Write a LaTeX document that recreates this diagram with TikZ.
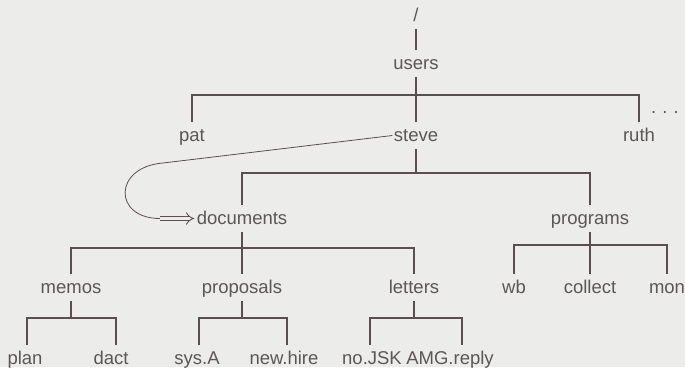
\documentclass[tikz,border=0pt]{standalone}
\usepackage{fontspec}
\setmainfont{Liberation Sans}
\usetikzlibrary{arrows.meta}
\definecolor{paper}{RGB}{236,236,234}
\definecolor{ink}{RGB}{90,78,82}
\definecolor{txt}{RGB}{92,86,88}
\tikzset{
  lbl/.style={anchor=base, inner xsep=1.5pt, inner ysep=4pt, outer sep=0pt,
              text height=15pt, text depth=4pt, text=txt,
              font=\fontsize{18.5}{20}\selectfont},
  tree/.style={draw=ink, line width=1.8pt},
  link/.style={draw=ink, line width=0.8pt},
}
\begin{document}
\begin{tikzpicture}[x=1pt, y=-1pt]
  % background and frame of the picture
  \fill[paper] (0,0) rectangle (685,367);
  \useasboundingbox (0,0) rectangle (685,367);

  % directory names
  \node[lbl] (root) at (416,21) {/};
  \node[lbl] (users) at (416,69) {users};
  \node[lbl] (pat) at (192,141) {pat};
  \node[lbl] (steve) at (416,141) {steve};
  \node[lbl] (ruth) at (639,141) {ruth};
  \node[lbl, inner sep=0pt, text depth=0pt, text height=0pt] (more) at (665,113) {.\,\,.\,\,.};
  \node[lbl] (documents) at (242,224) {documents};
  \node[lbl] (programs) at (590,224) {programs};
  \node[lbl] (memos) at (71,293) {memos};
  \node[lbl] (proposals) at (242,293) {proposals};
  \node[lbl] (letters) at (414,293) {letters};
  \node[lbl] (wb) at (514,293) {wb};
  \node[lbl] (collect) at (590,293) {collect};
  \node[lbl] (mon) at (667,293) {mon};
  \node[lbl] (plan) at (25,364) {plan};
  \node[lbl] (dact) at (111,364) {dact};
  \node[lbl] (sysA) at (197,364) {sys.A};
  \node[lbl] (newhire) at (284,364) {new.hire};
  \node[lbl] (noJSK) at (372,364) {no.JSK};
  \node[lbl] (AMGreply) at (450,364) {AMG.reply};

  % branching points
  \coordinate (busers) at (416,95);
  \coordinate (bsteve) at (416,173);
  \coordinate (bdocs) at (242,248);
  \coordinate (bprogs) at (590,245);
  \coordinate (bmemos) at (71,318);
  \coordinate (bprops) at (242,318);
  \coordinate (bletters) at (414,318);

  % tree edges
  \draw[tree] (root.south) -- (users.north);
  \draw[tree] (users.south) -- (steve.north);
  \draw[tree] (pat.north) |- (busers) -| (ruth.north);
  \draw[tree] (steve.south) -- (bsteve);
  \draw[tree] (documents.north) |- (bsteve) -| (programs.north);
  \draw[tree] (documents.south) -- (proposals.north);
  \draw[tree] (memos.north) |- (bdocs) -| (letters.north);
  \draw[tree] (programs.south) -- (collect.north);
  \draw[tree] (wb.north) |- (bprogs) -| (mon.north);
  \draw[tree] (memos.south) -- (bmemos);
  \draw[tree] ([xshift=2pt]plan.north) |- (bmemos) -| ([xshift=5pt]dact.north);
  \draw[tree] (proposals.south) -- (bprops);
  \draw[tree] ([xshift=2pt]sysA.north) |- (bprops) -| ([xshift=3pt]newhire.north);
  \draw[tree] (letters.south) -- (bletters);
  \draw[tree] ([xshift=-2pt]noJSK.north) |- (bletters) -| ([xshift=12pt]AMGreply.north);

  % link from steve to documents
  \coordinate (lk1) at (163,163);
  \coordinate (lk2) at (160,218.5);
  \draw[link] (steve.west) -- (lk1) .. controls (113,167) and (113,218.5) .. (lk2);
  \draw[draw=ink, line width=0.9pt, double=paper, double distance=3.4pt,
        -{Implies[length=7pt,width=12pt]}]
    (lk2) -- ([xshift=-1pt]documents.west);
\end{tikzpicture}
\end{document}
